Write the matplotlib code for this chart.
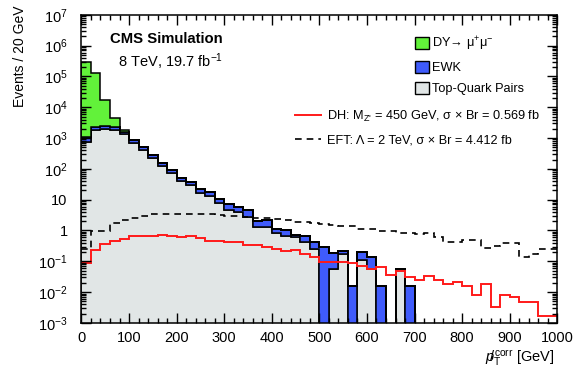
import numpy as np
import matplotlib
matplotlib.use('Agg')
import matplotlib.pyplot as plt
from matplotlib.ticker import MultipleLocator, LogLocator, FuncFormatter
from matplotlib.patches import Patch
from matplotlib.lines import Line2D

plt.rcParams['font.family'] = ['Liberation Sans', 'DejaVu Sans']
plt.rcParams['mathtext.fontset'] = 'custom'
plt.rcParams['mathtext.rm'] = 'Liberation Sans'
plt.rcParams['mathtext.it'] = 'Liberation Sans:italic'
plt.rcParams['mathtext.bf'] = 'Liberation Sans:bold'

# 20 GeV bins from 0 to 1000 GeV
bin_edges = np.arange(0, 1001, 20)

# background stack (events / 20 GeV)
top_quark = [736, 1800, 1950, 1800, 1340, 682, 420, 222, 122, 72.5,
             39.9, 29.6, 16.9, 13.5, 7.7, 4.56, 4.02, 2.77, 1.28, 1.31,
             0.816, 0.653, 0.619, 0.427, 0.260, 0, 0.0583, 0.170, 0, 0.109,
             0.0583, 0, 0, 0.0583, 0, 0, 0, 0, 0, 0,
             0, 0, 0, 0, 0, 0, 0, 0, 0, 0]
ewk = [334, 460, 480, 460, 220, 173, 98, 57, 31, 18.3,
       10, 7.4, 5.0, 4.0, 3.2, 2.42, 1.81, 1.79, 0.73, 0.85,
       0.344, 0.367, 0.084, 0.241, 0.148, 0.281, 0.121, 0.043, 0.0156, 0.084,
       0.075, 0.0156, 0, 0, 0.0156, 0, 0, 0, 0, 0,
       0, 0, 0, 0, 0, 0, 0, 0, 0, 0]
dy = [2.97e5, 1.26e5, 1.46e4, 2170, 250, 0, 0, 0, 0, 0,
      0, 0, 0, 0, 0, 0, 0, 0, 0, 0,
      0, 0, 0, 0, 0, 0, 0, 0, 0, 0,
      0, 0, 0, 0, 0, 0, 0, 0, 0, 0,
      0, 0, 0, 0, 0, 0, 0, 0, 0, 0]

# signal models
dh_signal = [0.0887, 0.229, 0.351, 0.459, 0.549, 0.653, 0.687, 0.687, 0.70, 0.653,
             0.593, 0.653, 0.562, 0.473, 0.459, 0.427, 0.427, 0.340, 0.326, 0.294,
             0.26, 0.218, 0.229, 0.170, 0.139, 0.0957, 0.0957, 0.092, 0.085, 0.0693,
             0.0583, 0.0658, 0.0354, 0.0488, 0.0298, 0.0256, 0.0336, 0.0243, 0.0177, 0.0214,
             0.0156, 0.0079, 0.0177, 0.0033, 0.0079, 0.0067, 0.0048, 0.0048, 0.00165, 0.00165]
eft_signal = [0.26, 0.97, 0.97, 1.69, 2.16, 2.64, 2.91, 3.38, 3.38, 3.38,
              3.5, 3.5, 3.4, 3.5, 3.14, 3.0, 2.91, 2.8, 2.64, 2.6,
              2.45, 2.16, 1.95, 1.95, 1.75, 1.6, 1.55, 1.4, 1.35, 1.1,
              1.08, 0.99, 0.97, 0.86, 0.86, 0.75, 0.80, 0.6, 0.41, 0.43,
              0.48, 0.48, 0.28, 0.32, 0.40, 0.40, 0.139, 0.17, 0.26, 0.26]

c_dy = '#62f23a'
c_ewk = '#3f5bfb'
c_top = '#e1e6e6'

fig = plt.figure(figsize=(5.86, 3.72), dpi=100)
ax = fig.add_axes([0.139, 0.132, 0.812, 0.828])

# stack: top quark, then EWK, then DY on top
floor = 1e-6
lvl1 = np.maximum(np.array(top_quark), floor)
lvl2 = np.maximum(lvl1 + np.array(ewk), floor)
lvl3 = lvl2 + np.array(dy)
ax.stairs(lvl1, bin_edges, baseline=floor, fill=True, facecolor=c_top, edgecolor='k', lw=1.1)
ax.stairs(lvl2, bin_edges, baseline=lvl1, fill=True, facecolor=c_ewk, edgecolor='k', lw=1.1)
ax.stairs(lvl3, bin_edges, baseline=lvl2, fill=True, facecolor=c_dy, edgecolor='k', lw=1.1)

ax.stairs(dh_signal, bin_edges, baseline=None, color='#ff1a1a', lw=1.4)
ax.stairs(eft_signal, bin_edges, baseline=None, color='k', lw=1.2, linestyle=(0, (4, 3)))

ax.set_yscale('log')
ax.set_xlim(0, 1000)
ax.set_ylim(1e-3, 1e7)

ax.xaxis.set_major_locator(MultipleLocator(100))
ax.xaxis.set_minor_locator(MultipleLocator(20))
ax.yaxis.set_major_locator(LogLocator(base=10, numticks=20))
ax.yaxis.set_minor_locator(LogLocator(base=10, subs=np.arange(2, 10), numticks=20))

def ylab(v, pos):
    e = int(round(np.log10(v)))
    if e == 0:
        return '1'
    if e == 1:
        return '10'
    return '$10^{%d}$' % e

ax.yaxis.set_major_formatter(FuncFormatter(ylab))
ax.tick_params(which='both', direction='in', top=True, right=True, width=1.0)
ax.tick_params(which='major', length=7)
ax.tick_params(which='minor', length=3.5)
ax.tick_params(axis='y', which='major', labelsize=10.5, pad=10)
ax.tick_params(axis='x', which='major', labelsize=10.5, pad=6)
for s in ax.spines.values():
    s.set_linewidth(1.1)

ax.set_ylabel('Events / 20 GeV', fontsize=10, ha='right', va='center')
ax.yaxis.set_label_coords(-0.129, 1.031)
ax.set_xlabel(r'$/\!\!\!\!p_{\mathrm{T}}^{\mathrm{corr}}$ [GeV]', fontsize=10.5, ha='right', va='center')
ax.xaxis.set_label_coords(0.995, -0.114)

ax.text(0.061, 0.921, 'CMS Simulation', transform=ax.transAxes, fontsize=10.7,
        fontweight='bold', ha='left', va='center')
ax.text(0.076, 0.847, r'8 TeV, 19.7 fb$^{-1}$', transform=ax.transAxes, fontsize=10.5,
        ha='left', va='center')

bkg_handles = [Patch(facecolor=c_dy, edgecolor='k', lw=1.0),
               Patch(facecolor=c_ewk, edgecolor='k', lw=1.0),
               Patch(facecolor=c_top, edgecolor='k', lw=1.0)]
bkg_labels = ['DY→ μ$^{+}$μ$^{-}$', 'EWK', 'Top-Quark Pairs']
leg1 = ax.legend(bkg_handles, bkg_labels, loc='upper left', bbox_to_anchor=(0.70, 0.935),
                 frameon=False, fontsize=9.2, borderpad=0, borderaxespad=0,
                 handlelength=1.1, handleheight=1.1, handletextpad=0.25, labelspacing=0.6)
ax.add_artist(leg1)

sig_handles = [Line2D([], [], color='#ff1a1a', lw=1.4),
               Line2D([], [], color='k', lw=1.2, linestyle=(0, (4, 3)))]
sig_labels = [r"DH: M$_{\text{Z'}}$ = 450 GeV, σ × Br = 0.569 fb",
              'EFT: Λ = 2 TeV, σ × Br = 4.412 fb']
ax.legend(sig_handles, sig_labels, loc='upper left', bbox_to_anchor=(0.448, 0.695),
          frameon=False, fontsize=9.2, borderpad=0, borderaxespad=0,
          handlelength=2.1, handletextpad=0.4, labelspacing=0.8)

fig.savefig('out.png', dpi=100)
